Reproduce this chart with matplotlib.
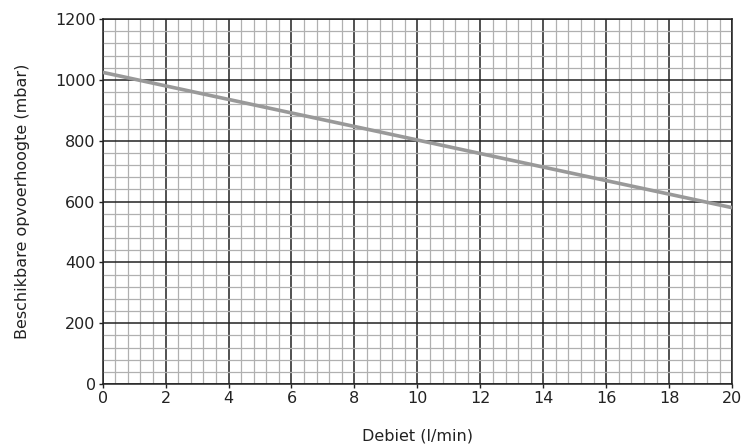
import matplotlib
matplotlib.use("Agg")
import matplotlib.pyplot as plt
import numpy as np

flow = [0, 20]
pressure = [1025, 580]
x_ticks = [0, 2, 4, 6, 8, 10, 12, 14, 16, 18, 20]
y_ticks = [0, 200, 400, 600, 800, 1000, 1200]

plt.rcParams['font.family'] = ['DejaVu Sans']
fig = plt.figure(figsize=(7.44, 4.45), dpi=100)
ax = fig.add_axes([0.138, 0.137, 0.846, 0.820])

ax.set_xlim(0, 20)
ax.set_ylim(0, 1200)
ax.set_xticks(x_ticks)
ax.set_yticks(y_ticks)
ax.set_xticks(np.arange(0, 20.01, 0.4), minor=True)
ax.set_yticks(np.arange(0, 1200.1, 40), minor=True)
ax.grid(which='minor', color='#b0b0b0', linewidth=0.9)
ax.grid(which='major', color='#222222', linewidth=1.1)
ax.tick_params(which='minor', length=0)
ax.tick_params(which='major', length=3, width=1, pad=2, colors='#222222', labelsize=11.5)
for s in ax.spines.values():
    s.set_color('#222222')
    s.set_linewidth(1.1)
ax.set_axisbelow(True)

ax.plot(flow, pressure, color='#999999', linewidth=2.6, solid_capstyle='butt', zorder=3)

ax.set_xlabel('Debiet (l/min)', fontsize=11.5, labelpad=16, color='#222222')
ax.set_ylabel('Beschikbare opvoerhoogte (mbar)', fontsize=11.5, labelpad=18, color='#222222')

fig.savefig('out.png', dpi=100)
